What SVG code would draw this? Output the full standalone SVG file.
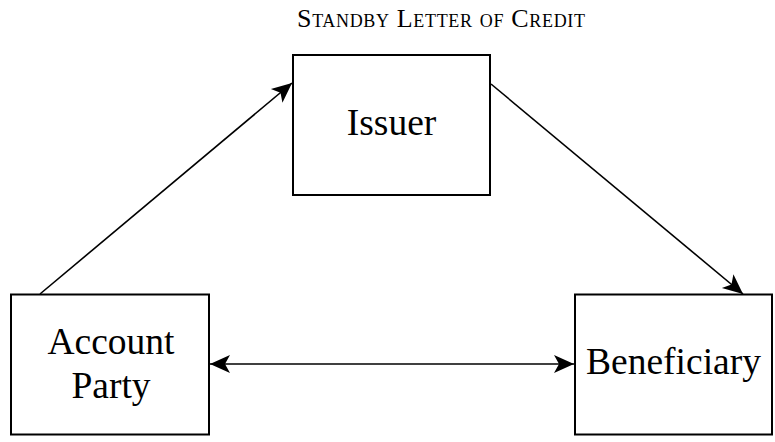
<svg xmlns="http://www.w3.org/2000/svg" width="775" height="442" viewBox="0 0 775 442">
  <style>
    .box { fill: #ffffff; stroke: #000000; stroke-width: 2; }
    .label { font-family: "Liberation Serif", "Times New Roman", serif; font-size: 37.5px; fill: #000000; text-anchor: middle; }
    .title { font-family: "Liberation Serif", "Times New Roman", serif; font-size: 26px; font-variant: small-caps; fill: #000000; text-anchor: middle; }
    .edge { fill: none; stroke: #000000; stroke-width: 1.6; }
  </style>
  <defs>
    <marker id="arrow" markerUnits="userSpaceOnUse" viewBox="-21 -10 22 20" refX="0" refY="0" markerWidth="22" markerHeight="20" orient="auto-start-reverse">
      <path d="M0,0 L-20,-9 L-15,0 L-20,9 Z" fill="#000000"/>
    </marker>
  </defs>
  <rect width="775" height="442" fill="#ffffff"/>

  <text class="title" x="441" y="27" textLength="288" lengthAdjust="spacing">Standby Letter of Credit</text>

  <g id="connectors">
    <line class="edge" x1="40" y1="294" x2="292" y2="83" marker-end="url(#arrow)"/>
    <line class="edge" x1="491" y1="84" x2="743" y2="294" marker-end="url(#arrow)"/>
    <line class="edge" x1="210" y1="364" x2="574" y2="364" marker-start="url(#arrow)" marker-end="url(#arrow)"/>
  </g>

  <g id="issuer">
    <rect class="box" x="293" y="55" width="197" height="140"/>
    <text class="label" x="391.5" y="135">Issuer</text>
  </g>

  <g id="account-party">
    <rect class="box" x="11" y="294.5" width="198" height="140"/>
    <text class="label" x="111" y="354">Account</text>
    <text class="label" x="111" y="397.5">Party</text>
  </g>

  <g id="beneficiary">
    <rect class="box" x="575" y="294.5" width="197" height="140"/>
    <text class="label" x="673.5" y="374">Beneficiary</text>
  </g>
</svg>
